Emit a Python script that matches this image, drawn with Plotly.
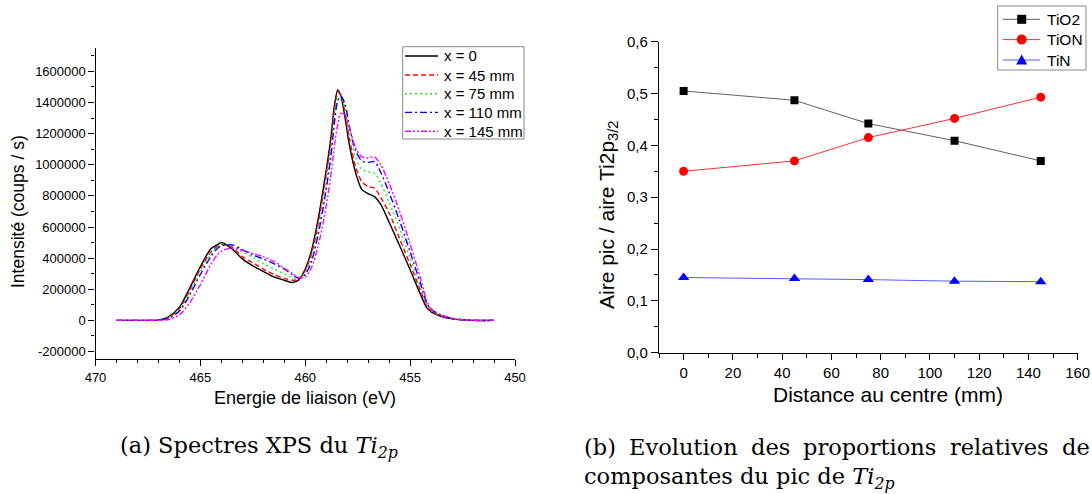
import plotly.graph_objects as go

# ---------------- data: (a) XPS Ti2p spectra ----------------
energy = [469, 468, 467.5, 467, 466.5, 466, 465.5, 465, 464.5, 464.2, 464, 463.5, 463, 462.5,
          462, 461.5, 461, 460.6, 460.3, 460, 459.7, 459.4, 459.1, 458.8, 458.6, 458.45, 458.3,
          458.1, 457.9, 457.6, 457.3, 457, 456.7, 456.4, 456, 455.5, 455, 454.5, 454.2, 454,
          453.5, 453, 452.5, 452, 451]
int_x0 = [0, 0, 0, 3000, 25000, 85000, 210000, 345000, 460000, 485000, 500000, 460000, 395000, 350000,
          315000, 280000, 258000, 243000, 262000, 330000, 450000, 640000, 880000, 1150000, 1390000, 1480000, 1440000,
          1300000, 1130000, 950000, 840000, 815000, 795000, 745000, 630000, 480000, 325000, 165000, 80000, 55000,
          25000, 10000, 3000, 0, 0]
int_x45 = [0, 0, 0, 2000, 20000, 75000, 195000, 330000, 440000, 475000, 488000, 470000, 410000, 370000,
           330000, 295000, 270000, 258000, 265000, 320000, 430000, 610000, 850000, 1120000, 1360000, 1465000, 1450000,
           1330000, 1170000, 990000, 890000, 860000, 850000, 790000, 690000, 525000, 360000, 190000, 90000, 60000,
           27000, 11000, 3000, 0, 0]
int_x75 = [0, 0, 0, 2000, 17000, 68000, 180000, 315000, 425000, 470000, 490000, 480000, 440000, 405000,
           365000, 330000, 300000, 275000, 268000, 305000, 400000, 570000, 800000, 1080000, 1320000, 1430000, 1440000,
           1360000, 1210000, 1050000, 970000, 955000, 945000, 880000, 760000, 590000, 400000, 210000, 100000, 65000,
           30000, 12000, 3000, 0, 0]
int_x110 = [0, 0, 0, 1000, 14000, 60000, 165000, 295000, 410000, 460000, 480000, 485000, 455000, 420000,
            395000, 365000, 330000, 292000, 270000, 295000, 380000, 540000, 760000, 1030000, 1280000, 1410000, 1440000,
            1390000, 1250000, 1090000, 1025000, 1015000, 1020000, 950000, 820000, 640000, 440000, 235000, 110000, 70000,
            32000, 13000, 4000, 0, 0]
int_x145 = [0, 0, 0, 0, 6000, 35000, 115000, 230000, 360000, 420000, 445000, 465000, 450000, 430000,
            410000, 380000, 335000, 300000, 275000, 280000, 340000, 470000, 660000, 910000, 1130000, 1260000, 1330000,
            1320000, 1240000, 1110000, 1050000, 1045000, 1050000, 1000000, 880000, 700000, 490000, 270000, 125000, 75000,
            35000, 14000, 4000, 0, 0]
spectra_names = ["x = 0", "x = 45 mm", "x = 75 mm", "x = 110 mm", "x = 145 mm"]
energy_ticks = [470, 465, 460, 455, 450]
intensity_ticks = [-200000, 0, 200000, 400000, 600000, 800000, 1000000, 1200000, 1400000, 1600000]

# ---------------- data: (b) relative proportions ----------------
distance = [0, 45, 75, 110, 145]
tio2 = [0.505, 0.487, 0.442, 0.409, 0.370]
tion = [0.350, 0.370, 0.415, 0.452, 0.493]
tin = [0.145, 0.143, 0.141, 0.138, 0.137]
component_names = ["TiO2", "TiON", "TiN"]
distance_ticks = [0, 20, 40, 60, 80, 100, 120, 140, 160]
ratio_ticks = [0.0, 0.1, 0.2, 0.3, 0.4, 0.5, 0.6]
ratio_ticktext = ["0,0", "0,1", "0,2", "0,3", "0,4", "0,5", "0,6"]

W, H = 1092, 494
FONT = "Liberation Sans, Arial, sans-serif"
SERIF = "DejaVu Serif, serif"


def px_x(p):
    return p / W


def px_y(p):
    return 1 - p / H


fig = go.Figure()

spec_styles = [
    ("#000000", "solid"),
    ("#ff0000", "5px,3px"),
    ("#22ee22", "2px,3px"),
    ("#0000ff", "7px,3px,2px,3px"),
    ("#ff00ff", "6px,2px,2px,2px,2px,2px"),
]
for ys, name, (col, dash) in zip([int_x0, int_x45, int_x75, int_x110, int_x145], spectra_names, spec_styles):
    fig.add_trace(go.Scatter(
        x=energy, y=ys, name=name, mode="lines", showlegend=False,
        line=dict(color=col, width=1.4, dash=dash, shape="spline", smoothing=0.8),
        xaxis="x", yaxis="y"))

comp_styles = [
    ("#606060", "#000000", "square", 8),
    ("#ff3030", "#ff0000", "circle", 9),
    ("#5a5aff", "#0000ff", "triangle-up", 10),
]
for ys, name, (lcol, mcol, sym, sz) in zip([tio2, tion, tin], component_names, comp_styles):
    fig.add_trace(go.Scatter(
        x=distance, y=ys, name=name, mode="lines+markers", showlegend=False,
        line=dict(color=lcol, width=1),
        marker=dict(color=mcol, symbol=sym, size=sz),
        xaxis="x2", yaxis="y2"))

axis_common = dict(showline=True, linecolor="black", linewidth=1.3, showgrid=False, zeroline=False,
                   ticks="outside", tickcolor="black", tickwidth=1.2, mirror=False, automargin=False)

fig.update_layout(
    template="none",
    width=W, height=H,
    margin=dict(l=0, r=0, t=0, b=0, pad=0),
    paper_bgcolor="white", plot_bgcolor="white",
    font=dict(family=FONT, color="black"),
    showlegend=False,
    xaxis=dict(domain=[px_x(95.5), px_x(515)], range=[470, 450], anchor="y",
               tickvals=energy_ticks, ticktext=[str(v) for v in energy_ticks],
               ticklen=6, tickfont=dict(size=13),
               minor=dict(ticks="outside", ticklen=3, tickcolor="black", dtick=1, tick0=450, tickmode="linear"),
               **axis_common),
    yaxis=dict(domain=[px_y(359.3), px_y(48)], range=[-250000, 1750000], anchor="x",
               tickvals=intensity_ticks, ticktext=[str(v) for v in intensity_ticks],
               ticklen=6, tickfont=dict(size=13),
               minor=dict(ticks="outside", ticklen=3, tickcolor="black", dtick=100000, tick0=0, tickmode="linear"),
               **axis_common),
    xaxis2=dict(domain=[px_x(659), px_x(1077.7)], range=[-10, 160], anchor="y2",
                tickvals=distance_ticks, ticktext=[str(v) for v in distance_ticks],
                ticklen=6, tickfont=dict(size=15),
                minor=dict(ticks="outside", ticklen=4, tickcolor="black", dtick=10, tick0=0, tickmode="linear"),
                **axis_common),
    yaxis2=dict(domain=[px_y(352.7), px_y(41.7)], range=[0, 0.6], anchor="x2",
                tickvals=ratio_ticks, ticktext=ratio_ticktext,
                ticklen=7, tickfont=dict(size=15),
                minor=dict(ticks="outside", ticklen=4, tickcolor="black", dtick=0.05, tick0=0, tickmode="linear"),
                **axis_common),
)


def add_key(box, rows, names, styles, x_line, x_text, font_size):
    fig.add_shape(type="rect", xref="paper", yref="paper",
                  x0=px_x(box[0]), x1=px_x(box[1]), y0=px_y(box[3]), y1=px_y(box[2]),
                  line=dict(color="#888888", width=1), fillcolor="white", layer="above")
    for ry, name, st in zip(rows, names, styles):
        fig.add_shape(type="line", xref="paper", yref="paper",
                      x0=px_x(x_line[0]), x1=px_x(x_line[1]), y0=px_y(ry), y1=px_y(ry),
                      line=dict(color=st["color"], width=st.get("width", 1.4), dash=st.get("dash", "solid")),
                      layer="above")
        fig.add_annotation(xref="paper", yref="paper", showarrow=False, xanchor="left", yanchor="middle",
                           x=px_x(x_text), y=px_y(ry), text=name,
                           font=dict(size=font_size, family=FONT, color="black"))


# ---- key of panel (a) ----
add_key((402.7, 524, 46.7, 139), [56.0, 75.0, 93.7, 112.4, 131.2], spectra_names,
        [dict(color=c, dash=d) for c, d in spec_styles], (405, 438), 442, 15)

# ---- key of panel (b) ----
key_rows_b = [19.3, 39.6, 60.0]
add_key((997.7, 1086, 6, 70), key_rows_b, component_names,
        [dict(color=lc, width=1) for lc, _, _, _ in comp_styles], (1002.7, 1040), 1045, 15.5)
mx = 1021.7
fig.add_shape(type="rect", xref="paper", yref="paper", layer="above",
              x0=px_x(mx - 4.5), x1=px_x(mx + 4.5), y0=px_y(key_rows_b[0] + 4.5), y1=px_y(key_rows_b[0] - 4.5),
              line=dict(width=0), fillcolor="#000000")
fig.add_shape(type="circle", xref="paper", yref="paper", layer="above",
              x0=px_x(mx - 5), x1=px_x(mx + 5), y0=px_y(key_rows_b[1] + 5), y1=px_y(key_rows_b[1] - 5),
              line=dict(width=0), fillcolor="#ff0000")
ty = key_rows_b[2]
tri = "M {:.5f} {:.5f} L {:.5f} {:.5f} L {:.5f} {:.5f} Z".format(
    px_x(mx - 5.5), px_y(ty + 4.5), px_x(mx + 5.5), px_y(ty + 4.5), px_x(mx), px_y(ty - 5.5))
fig.add_shape(type="path", xref="paper", yref="paper", layer="above", path=tri,
              line=dict(width=0), fillcolor="#0000ff")

annotations = [
    dict(text="Energie de liaison (eV)", x=px_x(305), y=px_y(398), font=dict(size=18)),
    dict(text="Intensité (coups / s)", x=px_x(18), y=px_y(212), textangle=-90, font=dict(size=17.5)),
    dict(text="Distance au centre (mm)", x=px_x(888), y=px_y(394), font=dict(size=21)),
    dict(text="Aire pic / aire Ti2p<sub>3/2</sub>", x=px_x(608), y=px_y(215), textangle=-90, font=dict(size=21)),
]
for a in annotations:
    fig.add_annotation(xref="paper", yref="paper", showarrow=False, xanchor="center", yanchor="middle", **a)

# captions (line 1 of (b) is justified, so its words are placed one by one)
captions = [
    dict(text="(a) Spectres XPS du <i>Ti</i><sub><i>2p</i></sub>", x=118, y=447),
    dict(text="(b)", x=582, y=447),
    dict(text="Evolution", x=627, y=447),
    dict(text="des", x=749, y=447),
    dict(text="proportions", x=801.5, y=447),
    dict(text="relatives", x=947.5, y=447),
    dict(text="de", x=1060, y=447),
    dict(text="composantes du pic de <i>Ti</i><sub><i>2p</i></sub>", x=582, y=478),
]
for c in captions:
    fig.add_annotation(xref="paper", yref="paper", showarrow=False, xanchor="left", yanchor="middle",
                       x=px_x(c["x"]), y=px_y(c["y"]), text=c["text"],
                       font=dict(size=22.5, family=SERIF, color="black"))

fig.write_html("out.html", config={"responsive": False, "displayModeBar": False},
               post_script="document.body.style.margin='0';document.body.style.overflow='hidden';")
